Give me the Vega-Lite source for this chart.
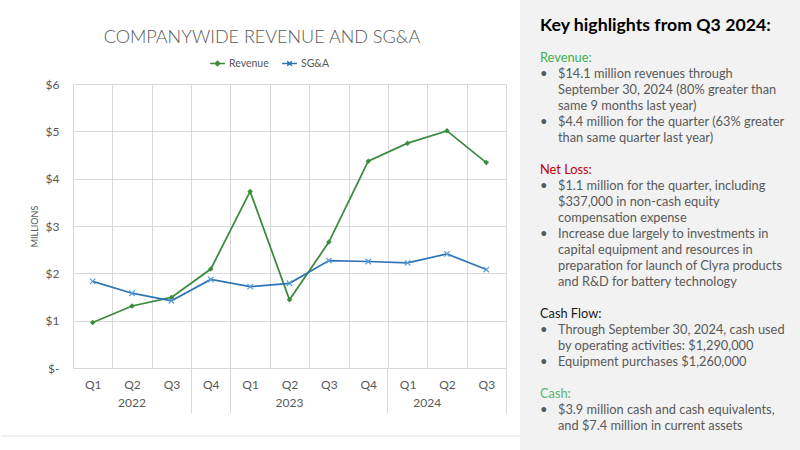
{
  "$schema": "https://vega.github.io/schema/vega-lite/v6.json",
  "background": "white",
  "padding": {"left": 0, "top": 0, "right": 0, "bottom": 0},
  "width": 433,
  "height": 284,
  "config": {
    "font": "Lato",
    "view": {"stroke": null},
    "axis": {"labelFont": "Lato", "titleFont": "Lato", "labelColor": "#595959", "titleColor": "#595959"}
  },
  "resolve": {"scale": {"x": "independent", "y": "independent", "color": "independent"}},
  "layer": [
    {
      "data": {"values": [
        {"period": "2022 Q1", "series": "Revenue", "value": 0.96},
        {"period": "2022 Q2", "series": "Revenue", "value": 1.31},
        {"period": "2022 Q3", "series": "Revenue", "value": 1.49},
        {"period": "2022 Q4", "series": "Revenue", "value": 2.09},
        {"period": "2023 Q1", "series": "Revenue", "value": 3.73},
        {"period": "2023 Q2", "series": "Revenue", "value": 1.44},
        {"period": "2023 Q3", "series": "Revenue", "value": 2.66},
        {"period": "2023 Q4", "series": "Revenue", "value": 4.37},
        {"period": "2024 Q1", "series": "Revenue", "value": 4.75},
        {"period": "2024 Q2", "series": "Revenue", "value": 5.01},
        {"period": "2024 Q3", "series": "Revenue", "value": 4.34},
        {"period": "2022 Q1", "series": "SG&A", "value": 1.83},
        {"period": "2022 Q2", "series": "SG&A", "value": 1.58},
        {"period": "2022 Q3", "series": "SG&A", "value": 1.42},
        {"period": "2022 Q4", "series": "SG&A", "value": 1.87},
        {"period": "2023 Q1", "series": "SG&A", "value": 1.72},
        {"period": "2023 Q2", "series": "SG&A", "value": 1.79},
        {"period": "2023 Q3", "series": "SG&A", "value": 2.27},
        {"period": "2023 Q4", "series": "SG&A", "value": 2.25},
        {"period": "2024 Q1", "series": "SG&A", "value": 2.22},
        {"period": "2024 Q2", "series": "SG&A", "value": 2.41},
        {"period": "2024 Q3", "series": "SG&A", "value": 2.08}
      ]},
      "resolve": {"axis": {"x": "independent"}},
      "layer": [
        {
          "mark": {"type": "line", "strokeWidth": 1.75},
          "encoding": {
            "x": {"field": "period", "type": "ordinal", "sort": null,
              "scale": {"type": "band", "paddingInner": 0, "paddingOuter": 0},
              "axis": {"orient": "bottom", "title": null, "tickBand": "extent", "grid": true, "gridColor": "#d9d9d9", "ticks": false, "domain": false,
                "labelExpr": "split(datum.value, ' ')[1]", "labelPadding": 11, "labelAngle": 0, "labelFontSize": 12}},
            "y": {"field": "value", "type": "quantitative",
              "scale": {"domain": [0, 6], "nice": false},
              "axis": {"title": "MILLIONS", "titleFontSize": 9, "titleFontWeight": "normal", "titlePadding": 6,
                "values": [0, 1, 2, 3, 4, 5, 6], "labelExpr": "datum.value == 0 ? '$-' : '$' + datum.value",
                "labelFontSize": 12, "labelPadding": 14, "ticks": false, "domain": false, "grid": true, "gridColor": "#d9d9d9"}},
            "color": {"field": "series", "type": "nominal",
              "scale": {"domain": ["Revenue", "SG&A"], "range": ["#3b8a3e", "#2e75b6"]},
              "legend": {"orient": "none", "legendX": 136, "legendY": -29, "direction": "horizontal", "title": null,
                "labelFont": "Lato", "labelFontSize": 10.5, "labelColor": "#595959", "symbolSize": 220, "columnPadding": 10, "labelOffset": 3,
                "encode": {"symbols": {"update": {
                  "shape": {"signal": "datum.value == 'Revenue' ? 'M-1,0L1,0M0,-0.3L0.3,0L0,0.3L-0.3,0Z' : 'M-1,0L1,0M-0.3,-0.3L0.3,0.3M-0.3,0.3L0.3,-0.3'"},
                  "fill": {"signal": "datum.value == 'Revenue' ? '#3b8a3e' : 'transparent'"},
                  "stroke": {"signal": "datum.value == 'Revenue' ? '#3b8a3e' : '#2e75b6'"},
                  "strokeWidth": {"value": 1.5}}}}}}
          }
        },
        {
          "transform": [{"filter": "datum.series == 'Revenue'"}],
          "mark": {"type": "point", "shape": "diamond", "filled": true, "size": 30, "color": "#3b8a3e", "opacity": 1},
          "encoding": {
            "x": {"field": "period", "type": "ordinal", "sort": null,
              "axis": {"orient": "bottom", "title": null, "values": ["2022 Q4", "2023 Q4", "2024 Q3"], "bandPosition": 1, "tickExtra": true,
                "tickSize": 45, "tickColor": "#d9d9d9", "labels": false, "domain": false, "grid": false}},
            "y": {"field": "value", "type": "quantitative"}
          }
        },
        {
          "transform": [{"filter": "datum.series == 'SG&A'"}],
          "mark": {"type": "point", "shape": "M-1,-1L1,1M-1,1L1,-1", "filled": false, "size": 30, "color": "#5b9bd5", "strokeWidth": 1.2, "opacity": 1},
          "encoding": {
            "x": {"field": "period", "type": "ordinal", "sort": null,
              "axis": {"orient": "bottom", "title": null, "values": ["2022 Q2", "2023 Q2", "2024 Q2"], "bandPosition": 1, "ticks": false, "domain": false, "grid": false,
                "labelExpr": "split(datum.value, ' ')[0]", "labelPadding": 29, "labelAngle": 0, "labelFontSize": 12,
                "labelOffset": {"condition": {"test": "datum.value == '2024 Q2'", "value": -19.7}, "value": 0}}},
            "y": {"field": "value", "type": "quantitative"}
          }
        }
      ]
    },
    {
      "data": {"values": [
        {"line": -1.25, "level": -15.444, "kind": "charttitle", "bullet": false, "text": "COMPANYWIDE REVENUE AND SG&A"},
        {"line": -2, "level": 0, "kind": "title", "bullet": false, "text": "Key highlights from Q3 2024:"},
        {"line": 0, "level": 0, "kind": "green", "bullet": false, "text": "Revenue:"},
        {"line": 1, "level": 1, "kind": "body", "bullet": true, "text": "$14.1 million revenues through"},
        {"line": 2, "level": 1, "kind": "body", "bullet": false, "text": "September 30, 2024 (80% greater than"},
        {"line": 3, "level": 1, "kind": "body", "bullet": false, "text": "same 9 months last year)"},
        {"line": 4, "level": 1, "kind": "body", "bullet": true, "text": "$4.4 million for the quarter (63% greater"},
        {"line": 5, "level": 1, "kind": "body", "bullet": false, "text": "than same quarter last year)"},
        {"line": 7, "level": 0, "kind": "red", "bullet": false, "text": "Net Loss:"},
        {"line": 8, "level": 1, "kind": "body", "bullet": true, "text": "$1.1 million for the quarter, including"},
        {"line": 9, "level": 1, "kind": "body", "bullet": false, "text": "$337,000 in non-cash equity"},
        {"line": 10, "level": 1, "kind": "body", "bullet": false, "text": "compensation expense"},
        {"line": 11, "level": 1, "kind": "body", "bullet": true, "text": "Increase due largely to investments in"},
        {"line": 12, "level": 1, "kind": "body", "bullet": false, "text": "capital equipment and resources in"},
        {"line": 13, "level": 1, "kind": "body", "bullet": false, "text": "preparation for launch of Clyra products"},
        {"line": 14, "level": 1, "kind": "body", "bullet": false, "text": "and R&D for battery technology"},
        {"line": 16, "level": 0, "kind": "black", "bullet": false, "text": "Cash Flow:"},
        {"line": 17, "level": 1, "kind": "body", "bullet": true, "text": "Through September 30, 2024, cash used"},
        {"line": 18, "level": 1, "kind": "body", "bullet": false, "text": "by operating activities: $1,290,000"},
        {"line": 19, "level": 1, "kind": "body", "bullet": true, "text": "Equipment purchases $1,260,000"},
        {"line": 21, "level": 0, "kind": "green2", "bullet": false, "text": "Cash:"},
        {"line": 22, "level": 1, "kind": "body", "bullet": true, "text": "$3.9 million cash and cash equivalents,"},
        {"line": 23, "level": 1, "kind": "body", "bullet": false, "text": "and $7.4 million in current assets"}
      ]},
      "encoding": {
        "x": {"field": "level", "type": "quantitative", "scale": {"domain": [-25.944, -1.8889], "nice": false, "zero": false}, "axis": null},
        "y": {"field": "line", "type": "quantitative", "scale": {"domain": [1.625, 19.375], "nice": false, "zero": false, "reverse": true}, "axis": null},
        "color": {"field": "kind", "type": "nominal", "legend": null,
          "scale": {"domain": ["charttitle", "title", "green", "green2", "red", "black", "body"], "range": ["#595959", "#000000", "#3fae4f", "#5cb270", "#c00000", "#1a1a1a", "#595959"]}}
      },
      "layer": [
        {
          "transform": [{"filter": "datum.kind == 'title'"}],
          "mark": {"type": "rect", "fill": "#f2f2f2"},
          "encoding": {"x": {"datum": -1.111}, "x2": {"datum": 14.5}, "y": {"datum": -3.625}, "y2": {"datum": 24.5}, "color": {"value": "#f2f2f2"}}
        },
        {
          "transform": [{"filter": "datum.kind == 'charttitle'"}],
          "mark": {"type": "rule", "strokeWidth": 1},
          "encoding": {"x": {"datum": -29.944}, "x2": {"datum": -1.111}, "y": {"datum": 23.625}, "color": {"value": "#e0e0e0"}}
        },
        {
          "transform": [{"filter": "datum.kind == 'charttitle'"}],
          "mark": {"type": "text", "align": "center", "baseline": "middle", "font": "Lato", "fontSize": 18, "fontWeight": 300},
          "encoding": {"text": {"field": "text"}}
        },
        {
          "transform": [{"filter": "datum.kind == 'title'"}],
          "mark": {"type": "text", "align": "left", "baseline": "middle", "font": "Lato", "fontSize": 17.7, "fontWeight": "bold"},
          "encoding": {"text": {"field": "text"}}
        },
        {
          "transform": [{"filter": "datum.kind != 'title' && datum.kind != 'charttitle'"}],
          "mark": {"type": "text", "align": "left", "baseline": "middle", "font": "Lato", "fontSize": 12.8},
          "encoding": {"text": {"field": "text"}}
        },
        {
          "transform": [{"filter": "datum.bullet"}],
          "mark": {"type": "text", "align": "left", "baseline": "middle", "font": "Lato", "fontSize": 13, "text": "•"},
          "encoding": {"x": {"datum": 0}, "color": {"value": "#595959"}}
        }
      ]
    }
  ]
}
